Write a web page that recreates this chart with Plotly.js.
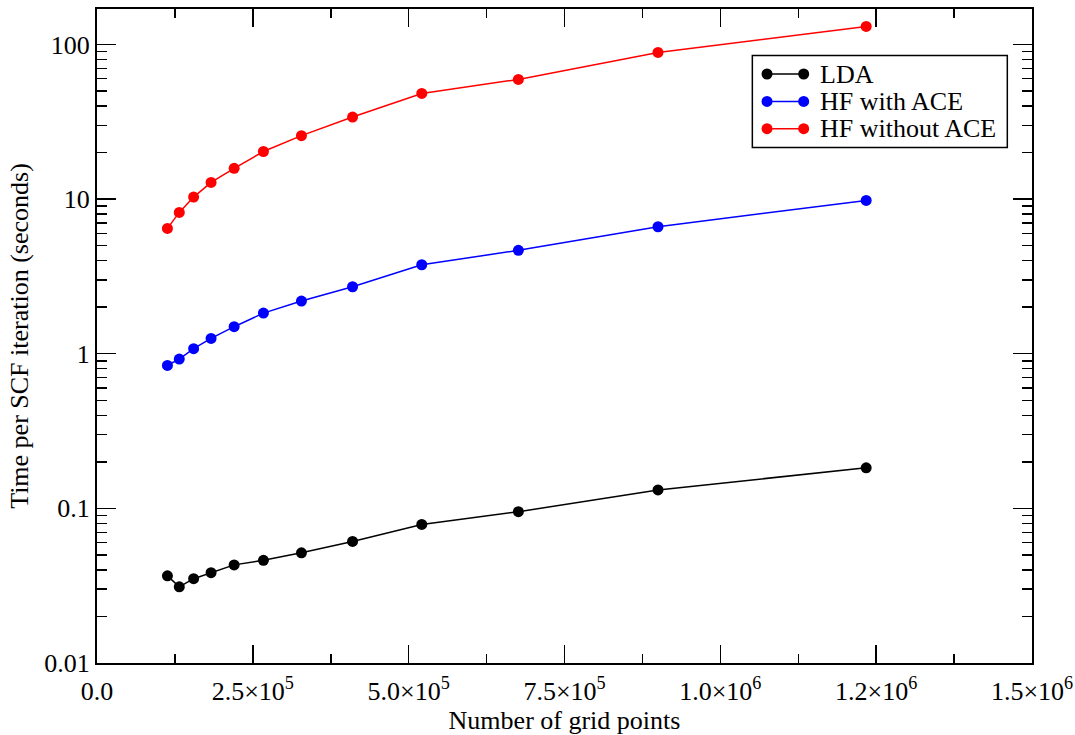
<!DOCTYPE html>
<html>
<head>
<meta charset="utf-8">
<script src="https://cdn.plot.ly/plotly-3.0.1.min.js"></script>
<style>
  html, body { margin: 0; padding: 0; background: #fff; }
  #plot { width: 1075px; height: 735px; }
</style>
</head>
<body>
<div id="plot"></div>
<script>
// Grid sizes (number of real-space grid points)
const gridPoints = [113000, 132000, 155000, 183000, 220000, 267000, 328000, 410000, 521000, 676000, 900000, 1234000];

// Wall time per SCF iteration, seconds
const ldaTime      = [0.0366, 0.0311, 0.0351, 0.0384, 0.0431, 0.0461, 0.0516, 0.0611, 0.0787, 0.0951, 0.1315, 0.183];
const hfAceTime    = [0.84, 0.924, 1.077, 1.256, 1.495, 1.83, 2.19, 2.71, 3.76, 4.66, 6.62, 9.8];
const hfNoAceTime  = [6.46, 8.20, 10.3, 12.8, 15.8, 20.3, 25.7, 33.9, 48.2, 59.4, 88.8, 130.7];

const seriesNames  = ['LDA', 'HF with ACE', 'HF without ACE'];
const seriesColors = ['#000000', '#0000ff', '#ff0000'];
const seriesData   = [ldaTime, hfAceTime, hfNoAceTime];

// Axis tick labels
const xTickVals = [0, 250000, 500000, 750000, 1000000, 1250000, 1500000];
const xTickText = ['0.0', '2.5×10<sup>5</sup>', '5.0×10<sup>5</sup>', '7.5×10<sup>5</sup>',
                   '1.0×10<sup>6</sup>', '1.2×10<sup>6</sup>', '1.5×10<sup>6</sup>'];
const yTickVals = [0.01, 0.1, 1, 10, 100];
const yTickText = ['0.01', '0.1', '1', '10', '100'];

const FONT = '"Liberation Serif", "Times New Roman", Times, serif';
const FS = 26;

const traces = seriesData.map((ys, i) => ({
  x: gridPoints,
  y: ys,
  type: 'scatter',
  mode: 'lines+markers',
  name: seriesNames[i],
  line: { color: seriesColors[i], width: 1.5 },
  marker: { color: seriesColors[i], size: 11 },
  showlegend: false
}));

// Boxed legend: a line with a dot at each end, then the label
const legendBox = { x0: 0.7009, x1: 0.9736, y0: 0.7884, y1: 0.929 };
const legendRowsY = [0.9006, 0.8587, 0.817];
const legendLineX = [0.7166, 0.7558];
const legendTextX = 0.7714;

const shapes = [{
  type: 'rect', xref: 'paper', yref: 'paper',
  x0: legendBox.x0, x1: legendBox.x1, y0: legendBox.y0, y1: legendBox.y1,
  line: { color: '#000', width: 1.5 }, fillcolor: '#fff', layer: 'above'
}];
const annotations = [];
seriesNames.forEach((name, i) => {
  const yy = legendRowsY[i];
  shapes.push({
    type: 'line', xref: 'paper', yref: 'paper',
    x0: legendLineX[0], x1: legendLineX[1], y0: yy, y1: yy,
    line: { color: seriesColors[i], width: 1.5 }, layer: 'above'
  });
  legendLineX.forEach(xx => {
    shapes.push({
      type: 'circle', xref: 'paper', yref: 'paper',
      xsizemode: 'pixel', ysizemode: 'pixel',
      xanchor: xx, yanchor: yy,
      x0: -5.5, x1: 5.5, y0: -5.5, y1: 5.5,
      fillcolor: seriesColors[i], line: { width: 0 }, layer: 'above'
    });
  });
  annotations.push({
    xref: 'paper', yref: 'paper', x: legendTextX, y: yy,
    xanchor: 'left', yanchor: 'middle', showarrow: false,
    text: name, font: { family: FONT, size: FS, color: '#000' }
  });
});

const layout = {
  width: 1075, height: 735,
  margin: { l: 97, r: 43, t: 9, b: 72 },
  paper_bgcolor: '#fff', plot_bgcolor: '#fff',
  font: { family: FONT, size: FS, color: '#000' },
  showlegend: false,
  xaxis: {
    range: [0, 1500000],
    tickmode: 'array', tickvals: xTickVals, ticktext: xTickText,
    ticks: 'inside', ticklen: 18, tickwidth: 1.5, tickcolor: '#000',
    minor: { ticks: 'inside', ticklen: 9, tickwidth: 1.5, tickcolor: '#000', dtick: 125000, tick0: 0, showgrid: false },
    showline: true, linecolor: '#000', linewidth: 2, mirror: 'allticks',
    showgrid: false, zeroline: false,
    ticklabelstandoff: 4,
    tickfont: { family: FONT, size: FS },
    title: { text: 'Number of grid points', font: { family: FONT, size: FS }, standoff: 4 }
  },
  yaxis: {
    type: 'log',
    range: [-2, 2.229],
    tickmode: 'array', tickvals: yTickVals, ticktext: yTickText,
    ticks: 'inside', ticklen: 19, tickwidth: 1.5, tickcolor: '#000',
    minor: { ticks: 'inside', ticklen: 10, tickwidth: 1.5, tickcolor: '#000', dtick: 'D1', showgrid: false },
    showline: true, linecolor: '#000', linewidth: 2, mirror: 'allticks',
    showgrid: false, zeroline: false,
    tickfont: { family: FONT, size: FS },
    title: { text: 'Time per SCF iteration (seconds)', font: { family: FONT, size: FS }, standoff: 8 }
  },
  shapes: shapes,
  annotations: annotations
};

Plotly.newPlot('plot', traces, layout, { displayModeBar: false, staticPlot: true });
</script>
</body>
</html>
